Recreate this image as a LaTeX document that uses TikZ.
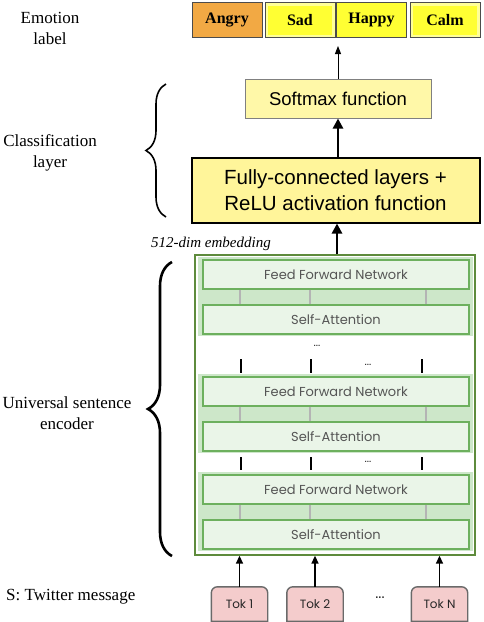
\documentclass[tikz,border=0pt]{standalone}
\usepackage{fontspec}
\setmainfont{Liberation Serif}
\newfontfamily\arialf{Liberation Sans}
\newfontfamily\popf{Poppins}
\usetikzlibrary{decorations.pathreplacing,arrows.meta}
\definecolor{angryc}{HTML}{F2A944}
\definecolor{ylight}{HTML}{FFFF99}
\definecolor{ybright}{HTML}{FFFF33}
\definecolor{smfill}{HTML}{FFF8A8}
\definecolor{fcfill}{HTML}{FFF59A}
\definecolor{outerg}{HTML}{5E8B3C}
\definecolor{blockg}{HTML}{CDE7C9}
\definecolor{innerg}{HTML}{EAF5E8}
\definecolor{borderg}{HTML}{6DB05E}
\definecolor{connc}{HTML}{B4B4B4}
\definecolor{tokfill}{HTML}{F4CCCC}
\definecolor{tokline}{HTML}{6A6A6A}
\definecolor{enctext}{HTML}{555555}
\begin{document}
\begin{tikzpicture}[x=1pt,y=-1pt,
  sidelabel/.style={font=\fontsize{17}{21}\selectfont, align=center, inner sep=0pt},
  emo/.style={draw=black!70, line width=1pt, minimum width=70pt, minimum height=35pt, inner sep=0pt,
     font=\fontsize{16}{18}\selectfont\bfseries},
  framed/.style={fill=ylight, path picture={\fill[ybright] ([shift={(3pt,-3pt)}]path picture bounding box.north west) rectangle ([shift={(-3pt,3pt)}]path picture bounding box.south east);}},
  smbox/.style={draw=black!50, line width=1pt, fill=smfill, minimum width=186pt, minimum height=39pt, inner sep=0pt,
     font=\arialf\fontsize{18.5}{22}\selectfont},
  fcbox/.style={draw=black, line width=2pt, fill=fcfill, minimum width=288pt, minimum height=65pt, inner sep=0pt, align=center,
     font=\arialf\fontsize{20.5}{26}\selectfont},
  encbox/.style={draw=outerg, line width=1.3pt, fill=white, minimum width=280pt, minimum height=300pt, inner sep=0pt},
  blockbg/.style={fill=blockg, minimum width=275pt, minimum height=79pt, inner sep=0pt},
  layerbox/.style={draw=borderg, line width=1.3pt, fill=innerg, minimum width=266pt, minimum height=29pt, inner sep=0pt,
     font=\popf\fontsize{13}{15}\selectfont, text=enctext},
  conn/.style={draw=connc, line width=2pt},
  tick/.style={draw=black, line width=1.2pt},
  tokbox/.style={minimum width=56pt, minimum height=34pt, inner sep=0pt, font=\popf\fontsize{12}{14}\selectfont, text=black!85},
  tokshape/.style={draw=tokline, line width=1.4pt, fill=tokfill},
  thinarrow/.style={draw=black, line width=1pt, -{Triangle[length=8pt,width=6pt]}},
  thickarrow/.style={draw=black, line width=2.6pt, -{Triangle[length=10pt,width=10pt]}},
  tokarrow/.style={draw=black, line width=1.5pt, -{Triangle[length=8pt,width=7pt]}},
  bracestyle/.style={draw=black, decorate, decoration={brace, amplitude=#1}},
  dots/.style={font=\arialf\bfseries\fontsize{8}{10}\selectfont, inner sep=0pt, text=black!80}
]
\useasboundingbox (0,0) rectangle (484,622);

% side labels
\node[sidelabel] (lemo) at (50,28) {Emotion\\label};
\node[sidelabel] (lcls) at (50,153) {Classification\\layer};
\node[sidelabel] (lenc) at (67,413) {Universal sentence\\encoder};
\node[sidelabel, anchor=base west] (ltw) at (6,600) {S: Twitter message};

% emotion labels
\node[emo, fill=angryc] (angry) at (227,19.5) {Angry};
\node[emo, framed] (sad) at (300,20) {Sad};
\node[emo, fill=ybright] (happy) at (371.5,20) {Happy};
\node[emo, framed] (calm) at (445,20) {Calm};
\coordinate (labtip) at (338,46);

% classification
\node[smbox] (soft) at (338,98.5) {Softmax function};
\node[fcbox] (fc) at (335.5,190) {Fully-connected layers +\\ReLU activation function};
\node[font=\itshape\fontsize{15}{18}\selectfont, anchor=base west, inner sep=0pt] (emb) at (151,247) {512-dim embedding};

% encoder
\node[encbox] (enc) at (335,405) {};
\foreach \i/\t in {1/257,2/374,3/472}{
  \node[blockbg] (blk\i) at (335.5,\t+39.5) {};
  \node[layerbox] (ffn\i) at (336,\t+17.5) {Feed Forward Network};
  \node[layerbox] (sa\i) at (336,\t+62.5) {Self-Attention};
  \foreach \xx in {240,310,426}{
    \draw[conn] (ffn\i.south -| \xx,0) -- (sa\i.north -| \xx,0);
  }
}
\node[dots] (d1) at (317,346) {...};
\foreach \xx in {241,311,422}{
  \draw[tick] (\xx,359) -- (\xx,373);
  \draw[tick] (\xx,457) -- (\xx,470);
}
\node[dots] (d2) at (368,365) {...};
\node[dots] (d3) at (368,462) {...};

% tokens
\foreach \n/\xx in {t1/239.5, t2/315, tn/439.5}{
  \node[tokbox] (\n) at (\xx,604) {};
}
\foreach \n/\lab in {t1/Tok 1, t2/Tok 2, tn/Tok N}{
  \path[tokshape] (\n.south west) [rounded corners=6pt] -- (\n.north west) -- (\n.north east) [sharp corners] -- (\n.south east) -- cycle;
  \node[tokbox] at (\n) {\lab};
}
\node[dots, font=\arialf\bfseries\fontsize{11}{12}\selectfont] (d4) at (380,598) {...};

% arrows
\draw[thinarrow] (soft.north) -- (labtip);
\draw[thickarrow] (fc.north -| soft.south) -- (soft.south);
\draw[thickarrow] (enc.north -| 337,0) -- (fc.south -| 337,0);
\draw[tokarrow] (t1.north) -- (t1.north |- enc.south);
\draw[tokarrow] (t2.north) -- (t2.north |- enc.south);
\draw[tokarrow] (tn.north) -- (tn.north |- enc.south);

% braces
\draw[bracestyle=20pt, line width=1.6pt] (166,217) -- (166,84);
\draw[bracestyle=24pt, line width=2.6pt] (172,556) -- (172,262);
\end{tikzpicture}
\end{document}
